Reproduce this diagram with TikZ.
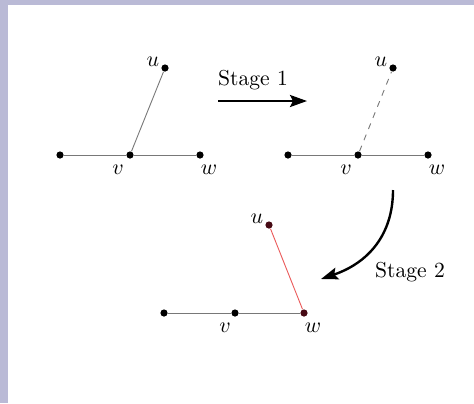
\documentclass[tikz,border=0pt]{standalone}
\usetikzlibrary{arrows.meta}
\definecolor{frame}{RGB}{186,186,214}
\definecolor{edgegray}{RGB}{120,120,120}
\definecolor{redline}{RGB}{235,90,90}
\begin{document}
\begin{tikzpicture}[x=0.5pt,y=-0.5pt,
  dot/.style={circle,fill=black,inner sep=0pt,minimum size=3.6pt},
  rdot/.style={circle,fill={rgb,255:red,70;green,10;blue,20},inner sep=0pt,minimum size=3.6pt},
  edge/.style={draw=edgegray,line width=0.45pt},
  bigarrow/.style={-{Stealth[length=8.5pt,width=6pt,inset=1.5pt]},line width=1.2pt},
  lab/.style={inner sep=1pt,font=\fontsize{10.8}{13}\selectfont}]
\useasboundingbox (0,0) rectangle (474,403);
\fill[white] (0,0) rectangle (474,403);
\fill[frame] (0,0) rectangle (474,5);
\fill[frame] (0,0) rectangle (8,403);
% diagram 1
\node[dot] (a1) at (60,155) {};
\node[dot] (v1) at (130,155) {};
\node[dot] (w1) at (200,155) {};
\node[dot] (u1) at (165,68) {};
\draw[edge] (a1) -- (v1) -- (w1);
\draw[edge] (v1) -- (u1);
\node[lab] (lu1) at (153,62) {$u$};
\node[lab] (lv1) at (118,170) {$v$};
\node[lab] (lw1) at (209,170) {$w$};
% stage 1 arrow
\coordinate (s1a) at (218,101);
\coordinate (s1b) at (307,101);
\draw[bigarrow] (s1a) -- (s1b);
\node[lab] (st1) at (253,80) {Stage 1};
% diagram 2
\node[dot] (a2) at (288,155) {};
\node[dot] (v2) at (358,155) {};
\node[dot] (w2) at (428,155) {};
\node[dot] (u2) at (393,68) {};
\draw[edge] (a2) -- (v2) -- (w2);
\draw[edge,dash pattern=on 3pt off 3pt] (v2) -- (u2);
\node[lab] (lu2) at (381,62) {$u$};
\node[lab] (lv2) at (346,170) {$v$};
\node[lab] (lw2) at (437,170) {$w$};
% stage 2 arrow
\coordinate (s2a) at (393,190);
\coordinate (s2b) at (321,279);
\draw[bigarrow] (s2a) .. controls (393,235) and (368,263) .. (s2b);
\node[lab] (st2) at (410,272) {Stage 2};
% diagram 3
\node[dot] (a3) at (164,313) {};
\node[dot] (v3) at (235,313) {};
\node[rdot] (w3) at (304,313) {};
\node[rdot] (u3) at (269,225) {};
\draw[edge] (a3) -- (v3) -- (w3);
\draw[draw=redline,line width=0.45pt] (u3) -- (w3);
\node[lab] (lu3) at (257,219) {$u$};
\node[lab] (lv3) at (225,328) {$v$};
\node[lab] (lw3) at (313,328) {$w$};
\end{tikzpicture}
\end{document}
